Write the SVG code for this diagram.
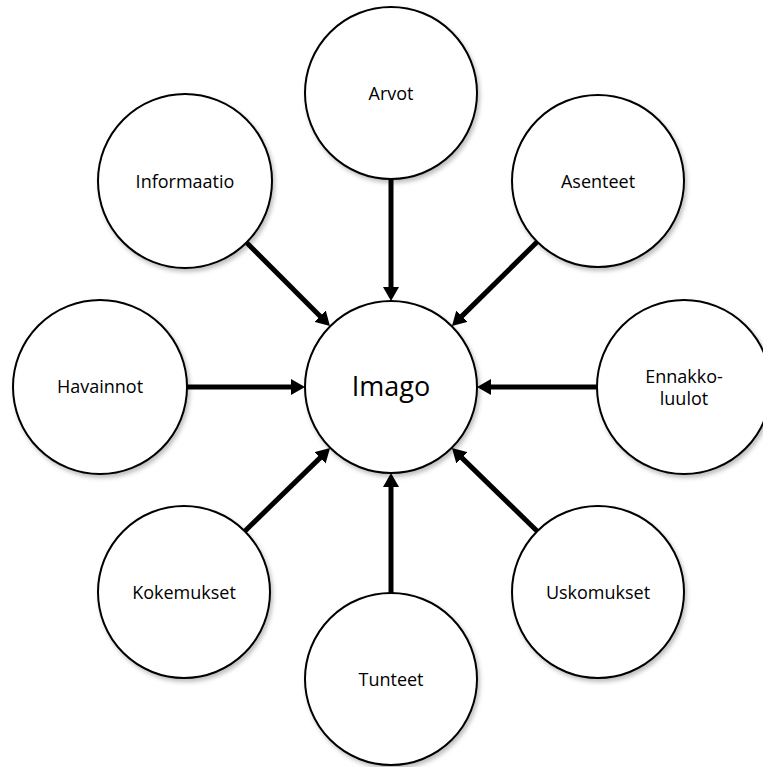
<svg xmlns="http://www.w3.org/2000/svg" width="763" height="767" viewBox="0 0 763 767">
<defs>
<style>
.node circle{fill:#fff;stroke:#000;stroke-width:2;filter:url(#sh)}
.node text{font-family:"Open Sans","Liberation Sans",sans-serif;font-size:18px;fill:#000;text-anchor:middle}
.node text.big{font-size:27px}
.conn line{stroke:#000;stroke-width:5;marker-end:url(#ah)}
</style>
<filter id="sh" x="-20%" y="-20%" width="140%" height="140%">
<feDropShadow dx="2" dy="3" stdDeviation="2" flood-color="#000" flood-opacity="0.25"/>
</filter>
<marker id="ah" markerUnits="userSpaceOnUse" markerWidth="14" markerHeight="16" refX="4" refY="8" orient="auto" viewBox="0 0 14 16">
<path d="M0,0 L14,8 L0,16 z" fill="#000"/>
</marker>
</defs>
<g class="conn" id="connectors">
<line x1="391" y1="179" x2="391" y2="291"/>
<line x1="187" y1="387" x2="295" y2="387"/>
<line x1="597" y1="387" x2="487" y2="387"/>
<line x1="391" y1="593" x2="391" y2="483"/>
<line x1="247" y1="243" x2="322.9" y2="318.9"/>
<line x1="537" y1="242" x2="459.1" y2="318.9"/>
<line x1="537" y1="531" x2="459.1" y2="455.1"/>
<line x1="245" y1="531" x2="322.9" y2="455.1"/>
</g>
<g class="node" id="imago"><circle cx="391" cy="387" r="86"/><text class="big" x="391" y="396">Imago</text></g>
<g class="node" id="arvot"><circle cx="391" cy="93" r="86"/><text x="391" y="100">Arvot</text></g>
<g class="node" id="asenteet"><circle cx="598" cy="181" r="86"/><text x="598" y="188">Asenteet</text></g>
<g class="node" id="ennakkoluulot"><circle cx="684" cy="387" r="87"/><text x="684" y="383">Ennakko-</text><text x="684" y="405">luulot</text></g>
<g class="node" id="uskomukset"><circle cx="598" cy="592" r="86"/><text x="598" y="599">Uskomukset</text></g>
<g class="node" id="tunteet"><circle cx="391" cy="679" r="86"/><text x="391" y="686">Tunteet</text></g>
<g class="node" id="kokemukset"><circle cx="184" cy="592" r="86"/><text x="184" y="599">Kokemukset</text></g>
<g class="node" id="havainnot"><circle cx="100" cy="387" r="87"/><text x="100" y="393">Havainnot</text></g>
<g class="node" id="informaatio"><circle cx="185" cy="181" r="87"/><text x="185" y="188">Informaatio</text></g>
</svg>
